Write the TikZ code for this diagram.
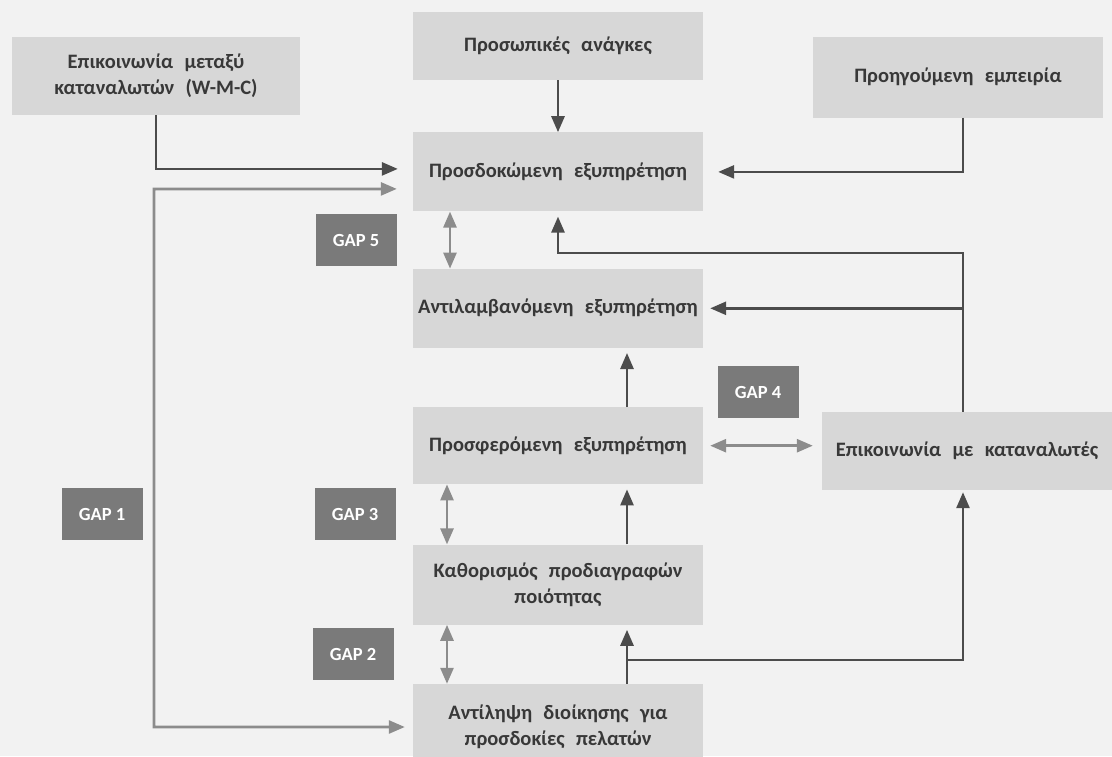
\documentclass[tikz,border=0pt]{standalone}
\usepackage{fontspec}
\setmainfont{Carlito}
\usetikzlibrary{arrows.meta,positioning}

\definecolor{paper}{HTML}{F2F2F2}
\definecolor{boxgray}{HTML}{D7D7D7}
\definecolor{gapgray}{HTML}{7A7A7A}
\definecolor{inkgray}{HTML}{383838}
\definecolor{linedark}{HTML}{4C4C4C}
\definecolor{linelight}{HTML}{8C8C8C}
\newcommand\widespace{\spaceskip=0.55em\relax}

\begin{document}
\begin{tikzpicture}[x=1pt, y=-1pt, node distance=57pt,
  >={Triangle[length=16pt,width=13pt]},
  stage/.style={fill=boxgray, minimum width=290pt, minimum height=79pt, align=center,
    text=inkgray, font=\fontsize{20.5}{26}\selectfont\bfseries\widespace},
  gap/.style={fill=gapgray, minimum width=81pt, minimum height=52pt, text=white,
    font=\fontsize{18.5}{20}\selectfont\bfseries},
  flow/.style={->, draw=linedark, line width=2.7pt},
  twoway/.style={<->, draw=linelight, line width=2.7pt}]
  \fill[paper] (0,0) rectangle (1112,756);
  \useasboundingbox (0,0) rectangle (1112,756);

  % main column
  \node[stage, minimum height=68pt] (needs) at (558,46) {Προσωπικές ανάγκες};
  \node[stage, below=52pt of needs] (expected) {Προσδοκώμενη εξυπηρέτηση};
  \node[stage, below=of expected] (perceived) {Αντιλαμβανόμενη εξυπηρέτηση};
  \node[stage, below=59pt of perceived, minimum height=77pt] (delivered) {Προσφερόμενη εξυπηρέτηση};
  \node[stage, below=60pt of delivered, minimum height=80pt] (specs) {Καθορισμός προδιαγραφών\\ποιότητας};
  \node[stage, below=59pt of specs, minimum height=86pt] (mgmt) {Αντίληψη διοίκησης για\\προσδοκίες πελατών};

  % side boxes
  \node[stage, minimum width=288pt, minimum height=78pt] (wmc) at (156,76) {Επικοινωνία μεταξύ\\καταναλωτών (W-M-C)};
  \node[stage, minimum height=81pt] (prior) at (958,77) {Προηγούμενη εμπειρία};
  \node[stage, minimum height=78pt] (comm) at (967,451) {Επικοινωνία με καταναλωτές};

  % gaps
  \node[gap] (gap1) at (102,514) {GAP 1};
  \node[gap] (gap2) at (353,654) {GAP 2};
  \node[gap] (gap3) at (355,514) {GAP 3};
  \node[gap] (gap4) at (758,392) {GAP 4};
  \node[gap] (gap5) at (356,240) {GAP 5};

  \coordinate (leftrail) at (154,189);
  \coordinate (fbturn) at (963,253);
  \coordinate (split) at (627,660);

  \draw[flow] (needs) -- (expected);
  \draw[flow, shorten >=15pt] (wmc.south) |- ([yshift=3pt]expected.west);
  \draw[flow, shorten >=15pt] ([xshift=5pt]prior.south) |- (expected.east);
  \draw[twoway, shorten <=16pt, shorten >=8pt] ([yshift=-17pt]expected.west) -- (leftrail) |- (mgmt.west);

  \draw[flow, shorten >=5pt] (comm.north -| fbturn) -- (fbturn) -| (expected.south);
  \draw[flow, shorten >=7pt] (fbturn |- perceived.east) -- (perceived.east);
  \draw[flow, shorten >=5pt] ([xshift=69pt]delivered.north) -- ([xshift=69pt]perceived.south);
  \draw[flow, shorten >=5pt] ([xshift=69pt]specs.north) -- ([xshift=69pt]delivered.south);
  \draw[flow, shorten >=5pt] ([xshift=69pt]mgmt.north) -- ([xshift=69pt]specs.south);
  \draw[flow, shorten >=2pt] (split) -| (comm.south -| fbturn);

  \draw[twoway] ([xshift=-108pt]expected.south) -- ([xshift=-108pt]perceived.north);
  \draw[twoway] ([xshift=-111pt]delivered.south) -- ([xshift=-111pt]specs.north);
  \draw[twoway] ([xshift=-111pt]specs.south) -- ([xshift=-111pt]mgmt.north);
  \draw[twoway, shorten <=7pt, shorten >=9pt] (delivered.east) -- (delivered.east -| comm.west);
\end{tikzpicture}
\end{document}
